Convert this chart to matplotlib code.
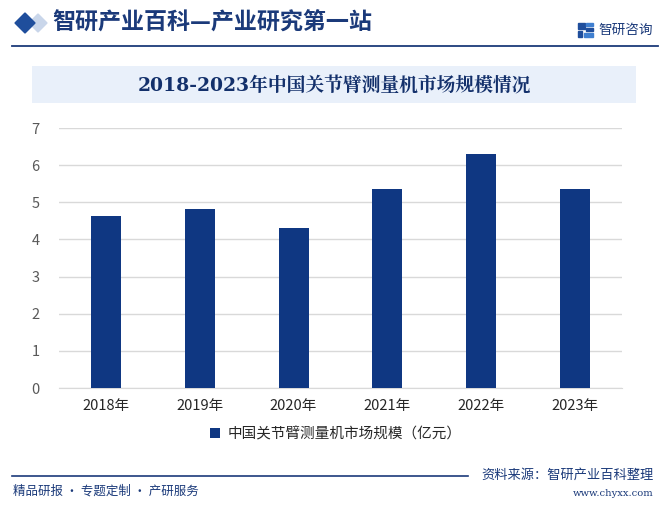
import matplotlib
matplotlib.use("Agg")
import matplotlib.pyplot as plt
from matplotlib.patches import Rectangle, Polygon
from matplotlib.lines import Line2D

plt.rcParams['font.family'] = ['Noto Sans CJK SC', 'DejaVu Sans']

categories = ["2018年", "2019年", "2020年", "2021年", "2022年", "2023年"]
values = [4.64, 4.82, 4.31, 5.36, 6.31, 5.36]
series_name = "中国关节臂测量机市场规模（亿元）"
title = "2018-2023年中国关节臂测量机市场规模情况"
yticks = [0, 1, 2, 3, 4, 5, 6, 7]

W, H = 671, 514
fig = plt.figure(figsize=(W / 100, H / 100), dpi=100)
fig.patch.set_facecolor("white")

navy = "#0F3782"
dark = "#1B3A7A"

def fx(px):
    return px / W

def fy(py):
    return 1 - py / H

# Header diamonds
fig.patches.append(Polygon([[fx(29), fy(23)], [fx(38), fy(14)], [fx(47), fy(23)], [fx(38), fy(32)]],
                           closed=True, transform=fig.transFigure, color="#C9D6EA", zorder=2))
fig.patches.append(Polygon([[fx(15), fy(23)], [fx(25), fy(13)], [fx(35), fy(23)], [fx(25), fy(33)]],
                           closed=True, transform=fig.transFigure, color="#1F4E9C", zorder=3))
fig.text(fx(52), fy(23.5), "智研产业百科—产业研究第一站", fontsize=16.6, fontweight="bold",
         color=dark, va="center", ha="left")

# Logo
for (lx, ly, lw_, lh, c) in [(578, 23, 7, 6, "#1F4E9C"), (578, 31, 4, 6, "#1F4E9C"),
                             (586, 23, 7, 3, "#3F7FD0"), (586, 28, 7, 3, "#1F4E9C"),
                             (584, 33, 9, 4, "#3F7FD0")]:
    fig.patches.append(Rectangle((fx(lx), fy(ly + lh)), fx(lw_), lh / H,
                                 transform=fig.transFigure, color=c))
fig.text(fx(653), fy(29.5), "智研咨询", fontsize=9.8, color=dark, va="center", ha="right")
fig.lines.append(Line2D([fx(12), fx(658)], [fy(45.5), fy(45.5)], transform=fig.transFigure,
                        color=dark, lw=1.3))

# Title box
fig.patches.append(Rectangle((fx(32), fy(103)), fx(604), 37 / H, transform=fig.transFigure,
                             facecolor="#E9F0FA", edgecolor="none"))
fig.text(fx(334), fy(86), title, fontsize=13.5, fontweight="bold", color="#13306B",
         va="center", ha="center", family=["DejaVu Serif", "Noto Serif CJK SC", "Noto Sans CJK SC"])

# Axes
ax = fig.add_axes([fx(59), fy(388), fx(622 - 59), (388 - 128) / H])
x = range(len(categories))
ax.bar(x, values, width=0.32, color=navy, zorder=3, label=series_name)
ax.set_xlim(-0.5, len(categories) - 0.5)
ax.set_ylim(0, 7)
ax.set_yticks(yticks)
ax.set_yticklabels([str(t) for t in yticks], fontsize=10.5, color="#595959")
ax.set_xticks(list(x))
ax.set_xticklabels(categories, fontsize=10.5, color="#262626")
ax.grid(axis="y", color="#D9D9D9", lw=1, zorder=0)
for s in ["top", "right", "left"]:
    ax.spines[s].set_visible(False)
ax.spines["bottom"].set_color("#D9D9D9")
ax.tick_params(axis="both", length=0, pad=8)
ax.tick_params(axis="y", pad=14)

leg = ax.legend(loc="center", bbox_to_anchor=(fx(336), fy(434)), bbox_transform=fig.transFigure,
                frameon=False, fontsize=10.5, handlelength=0.7, handleheight=0.7, handletextpad=0.5)
for t in leg.get_texts():
    t.set_color("#262626")

# Footer
fig.lines.append(Line2D([fx(12), fx(468)], [fy(475.5), fy(475.5)], transform=fig.transFigure,
                        color=dark, lw=1.2))
fig.text(fx(13), fy(491), "精品研报 · 专题定制 · 产研服务", fontsize=9, color=dark,
         va="center", ha="left")
fig.text(fx(654), fy(475), "资料来源：智研产业百科整理", fontsize=9.5, color=dark,
         va="center", ha="right")
fig.text(fx(654), fy(493), "www.chyxx.com", fontsize=7.2, color=dark, va="center", ha="right",
         family=["DejaVu Serif"])

fig.savefig("out.png", dpi=100)
